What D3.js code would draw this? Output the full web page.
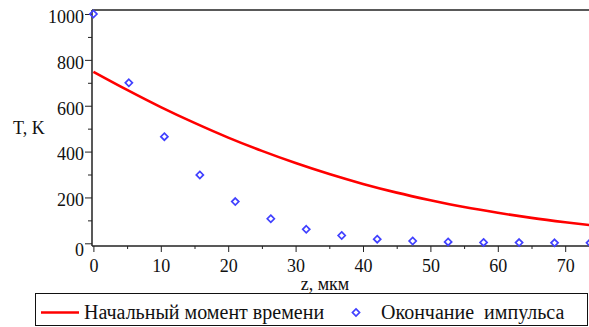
<!DOCTYPE html>
<html>
<head>
<meta charset="utf-8">
<script src="https://cdn.jsdelivr.net/npm/d3@7"></script>
<style>
  html, body { margin: 0; padding: 0; background: #fff; }
  svg { display: block; }
  svg text { font-family: "Liberation Serif", "DejaVu Serif", serif !important; fill: #111; }
</style>
</head>
<body>
<svg id="chart" width="589" height="327"></svg>
<script>
// Temperature profile at the initial moment (solid red line), sampled every 5 µm
const curveZ = [0, 5, 10, 15, 20, 25, 30, 35, 40, 45, 50, 55, 60, 65, 70, 75];
const curveT = [748, 669, 594, 525, 461, 403, 350, 302, 259, 221, 188, 158, 133, 111, 92, 75];

// Temperature profile at the end of the pulse (blue diamonds)
const pulseZ = [0, 5.26, 10.53, 15.79, 21.05, 26.32, 31.58, 36.84, 42.11, 47.37, 52.63, 57.89, 63.16, 68.42, 73.68];
const pulseT = [1000, 700, 465, 298, 182, 107, 61, 34, 18, 10, 6, 4, 3, 2, 2];

// Axis ticks
const xMajor = [0, 10, 20, 30, 40, 50, 60, 70];
const xMinor = [5, 15, 25, 35, 45, 55, 65, 75];
const yMajor = [0, 200, 400, 600, 800, 1000];
const yMinor = [100, 300, 500, 700, 900];

// Labels
const xTitle = "z, мкм";
const yTitle = "T, K";
const seriesNames = ["Начальный момент времени", "Окончание  импульса"];

const svg = d3.select("#chart");
const SERIF = '"Liberation Serif", "DejaVu Serif", serif';

const x = d3.scaleLinear().domain([0, 75]).range([93.4, 93.4 + 6.74 * 75]);
const y = d3.scaleLinear().domain([0, 1000]).range([243.3, 14]);

const axisX = 92, axisY = 246, topY = 10, W = 589;

// frame: top border, left and bottom axis lines
svg.append("line").attr("x1", axisX).attr("x2", W).attr("y1", topY).attr("y2", topY)
  .attr("stroke", "#222").attr("stroke-width", 1.5);
svg.append("line").attr("x1", axisX).attr("x2", axisX).attr("y1", topY).attr("y2", axisY)
  .attr("stroke", "#222").attr("stroke-width", 1.5);
svg.append("line").attr("x1", axisX).attr("x2", W).attr("y1", axisY).attr("y2", axisY)
  .attr("stroke", "#222").attr("stroke-width", 1.5);

// x axis
svg.append("g").attr("transform", `translate(0,${axisY})`)
  .call(d3.axisBottom(x).tickValues(xMajor).tickSize(6).tickPadding(7).tickFormat(d3.format("d")));
svg.append("g").attr("transform", `translate(0,${axisY})`)
  .call(d3.axisBottom(x).tickValues(xMinor).tickSize(3).tickFormat(""));

// y axis
const gy = svg.append("g").attr("transform", `translate(${axisX},0)`)
  .call(d3.axisLeft(y).tickValues(yMajor).tickSize(7).tickPadding(1).tickFormat(d3.format("d")));
svg.append("g").attr("transform", `translate(${axisX},0)`)
  .call(d3.axisLeft(y).tickValues(yMinor).tickSize(4).tickFormat(""));

svg.selectAll(".domain").remove();
svg.selectAll("g").attr("font-family", SERIF);
svg.selectAll(".tick line").attr("stroke", "#222");
svg.selectAll(".tick text").attr("font-size", 18).style("font-family", SERIF).attr("fill", "#111");
gy.selectAll(".tick text").attr("dy", d => d === 0 ? "0.68em" : "0.46em");

// axis titles
svg.append("text").attr("x", 13).attr("y", 134).attr("font-size", 18).style("font-family", SERIF).text(yTitle);
svg.append("text").attr("x", 325).attr("y", 290).attr("text-anchor", "middle")
  .attr("font-size", 18).style("font-family", SERIF).text(xTitle);

// initial-moment curve
const line = d3.line().x((d, i) => x(curveZ[i])).y(d => y(d)).curve(d3.curveMonotoneX);
svg.append("path").datum(curveT).attr("d", line)
  .attr("fill", "none").attr("stroke", "#ff0000").attr("stroke-width", 2.6);

// end-of-pulse points
const diamond = d3.symbol(d3.symbolDiamond2, 32);
svg.append("g").selectAll("path").data(pulseT).join("path")
  .attr("transform", (d, i) => `translate(${x(pulseZ[i])},${y(d)})`)
  .attr("d", diamond)
  .attr("fill", "none").attr("stroke", "#4040ff").attr("stroke-width", 1.7);

// legend
const lg = svg.append("g");
lg.append("rect").attr("x", 35.5).attr("y", 293.5).attr("width", 552).attr("height", 32)
  .attr("fill", "#fff").attr("stroke", "#111").attr("stroke-width", 1);
lg.append("line").attr("x1", 41).attr("x2", 79).attr("y1", 312.5).attr("y2", 312.5)
  .attr("stroke", "#ff0000").attr("stroke-width", 2.6);
lg.append("text").attr("x", 84).attr("y", 319).attr("font-size", 20).style("font-family", SERIF)
  .text(seriesNames[0]);
lg.append("path").attr("transform", "translate(356,312.5)").attr("d", diamond)
  .attr("fill", "none").attr("stroke", "#4040ff").attr("stroke-width", 1.7);
lg.append("text").attr("x", 381).attr("y", 319).attr("font-size", 20).style("font-family", SERIF)
  .style("white-space", "pre").text(seriesNames[1]);
</script>
</body>
</html>
